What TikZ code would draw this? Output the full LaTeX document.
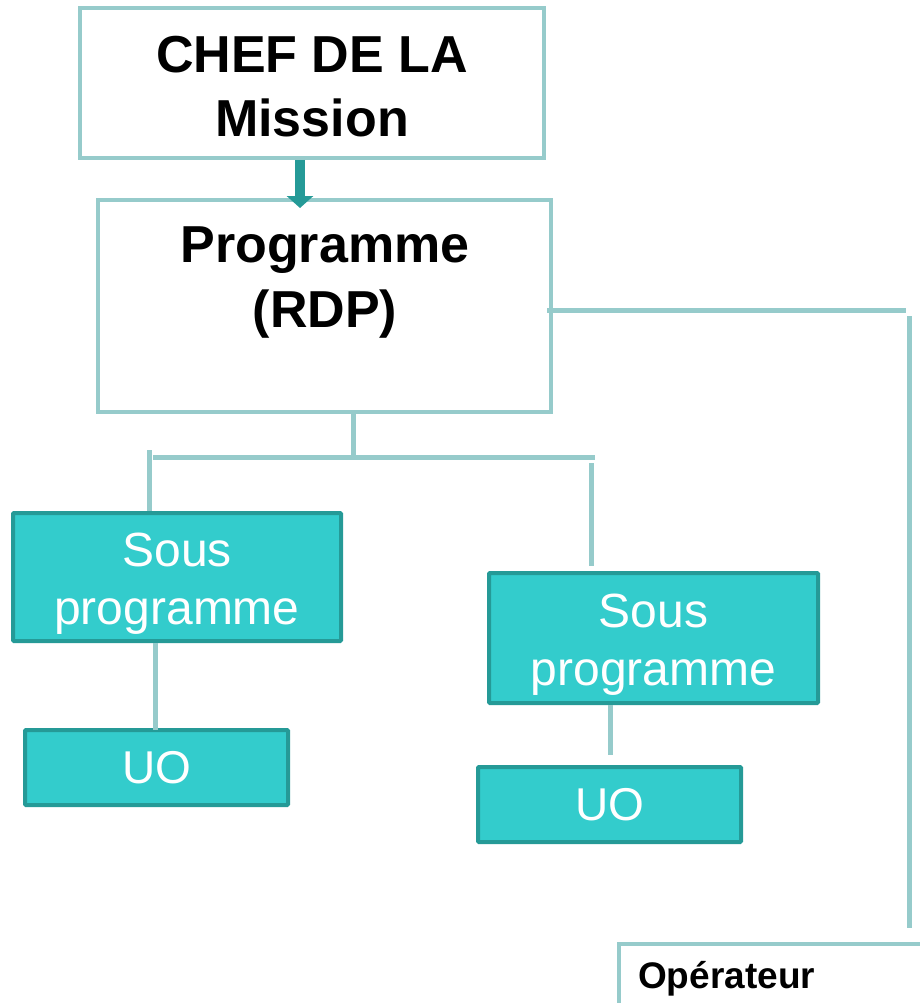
\documentclass[tikz,border=0pt]{standalone}
\usepackage{fontspec}
\setmainfont{Liberation Sans}
\usetikzlibrary{arrows.meta}
\definecolor{lightteal}{HTML}{96CBCB}
\definecolor{darkteal}{HTML}{259A97}
\definecolor{cyanfill}{HTML}{33CCCC}
\tikzset{
  whitebox/.style={draw=lightteal, line width=4pt, fill=white, inner sep=0pt},
  cyanbox/.style={draw=darkteal, line width=4pt, fill=cyanfill, inner sep=0pt, rounded corners=1pt},
  bigbold/.style={font=\bfseries\fontsize{52}{64}\selectfont, align=center, inner sep=0pt},
  subtxt/.style={font=\fontsize{48}{58}\selectfont, text=white, align=center, inner sep=0pt},
  uotxt/.style={font=\fontsize{46}{55}\selectfont, text=white, inner sep=0pt},
  conn/.style={draw=lightteal, line width=5pt},
  mainarrow/.style={draw=darkteal, line width=10pt, -{Triangle[width=26pt,length=12pt]}}
}
\begin{document}
\begin{tikzpicture}[x=1pt,y=-1pt]
\useasboundingbox (0,0) rectangle (920,1003);
% boxes
\node[whitebox, minimum width=464pt, minimum height=150pt] (chef) at (312,83) {};
\node[bigbold] (cheftxt) at (312,87) {CHEF DE LA\\Mission};
\node[whitebox, minimum width=453pt, minimum height=212pt] (prog) at (324.5,306) {};
\node[font=\bfseries\fontsize{52}{65}\selectfont, align=center, inner sep=0pt] (progtxt) at (325,283) {Programme\\(RDP)};
\node[cyanbox, minimum width=328pt, minimum height=128pt] (sp1) at (177,577) {};
\node[subtxt] (sp1txt) at (177,584) {Sous\\programme};
\node[cyanbox, minimum width=329pt, minimum height=130pt] (sp2) at (653.5,638) {};
\node[subtxt] (sp2txt) at (653.5,645) {Sous\\programme};
\node[cyanbox, minimum width=263pt, minimum height=75pt] (uo1) at (156.5,767.5) {};
\node[uotxt] (uo1txt) at (157,768) {UO};
\node[cyanbox, minimum width=263pt, minimum height=75pt] (uo2) at (609.5,804.5) {};
\node[uotxt] (uo2txt) at (610,805) {UO};
\node[whitebox, anchor=north west, minimum width=340pt, minimum height=120pt] (op) at (617,942) {};
\node[anchor=base west, inner sep=0pt, font=\bfseries\fontsize{37}{44}\selectfont] (optxt) at (638,988) {Opérateur};
% arrow chef -> programme
\draw[mainarrow] (chef.south -| 300,0) -- (300,208);
% programme -> bar
\coordinate (pb) at (353,457);
\draw[conn] (prog.south -| pb) -- (pb);
\coordinate (barL) at (153,457);
\coordinate (barR) at (595,457);
\draw[conn] (barL) -- (barR);
\coordinate (d1top) at (149,450);
\draw[conn] (d1top) -- (d1top |- sp1.north);
\coordinate (d2top) at (591,463);
\coordinate (d2bot) at (591,566);
\draw[conn] (d2top) -- (d2bot);
% sous programme -> UO
\draw[conn] (sp1.south -| 155,0) -- (155,730);
\coordinate (u2top) at (610,755);
\draw[conn] (sp2.south -| u2top) -- (u2top);
% programme -> operateur
\coordinate (r1) at (906,310);
\coordinate (r2) at (909,316);
\coordinate (r3) at (909,928);
\draw[conn] (prog.east |- r1) ++(-6,0) -- (r1);
\draw[conn] (r2) -- (r3);
\end{tikzpicture}
\end{document}
